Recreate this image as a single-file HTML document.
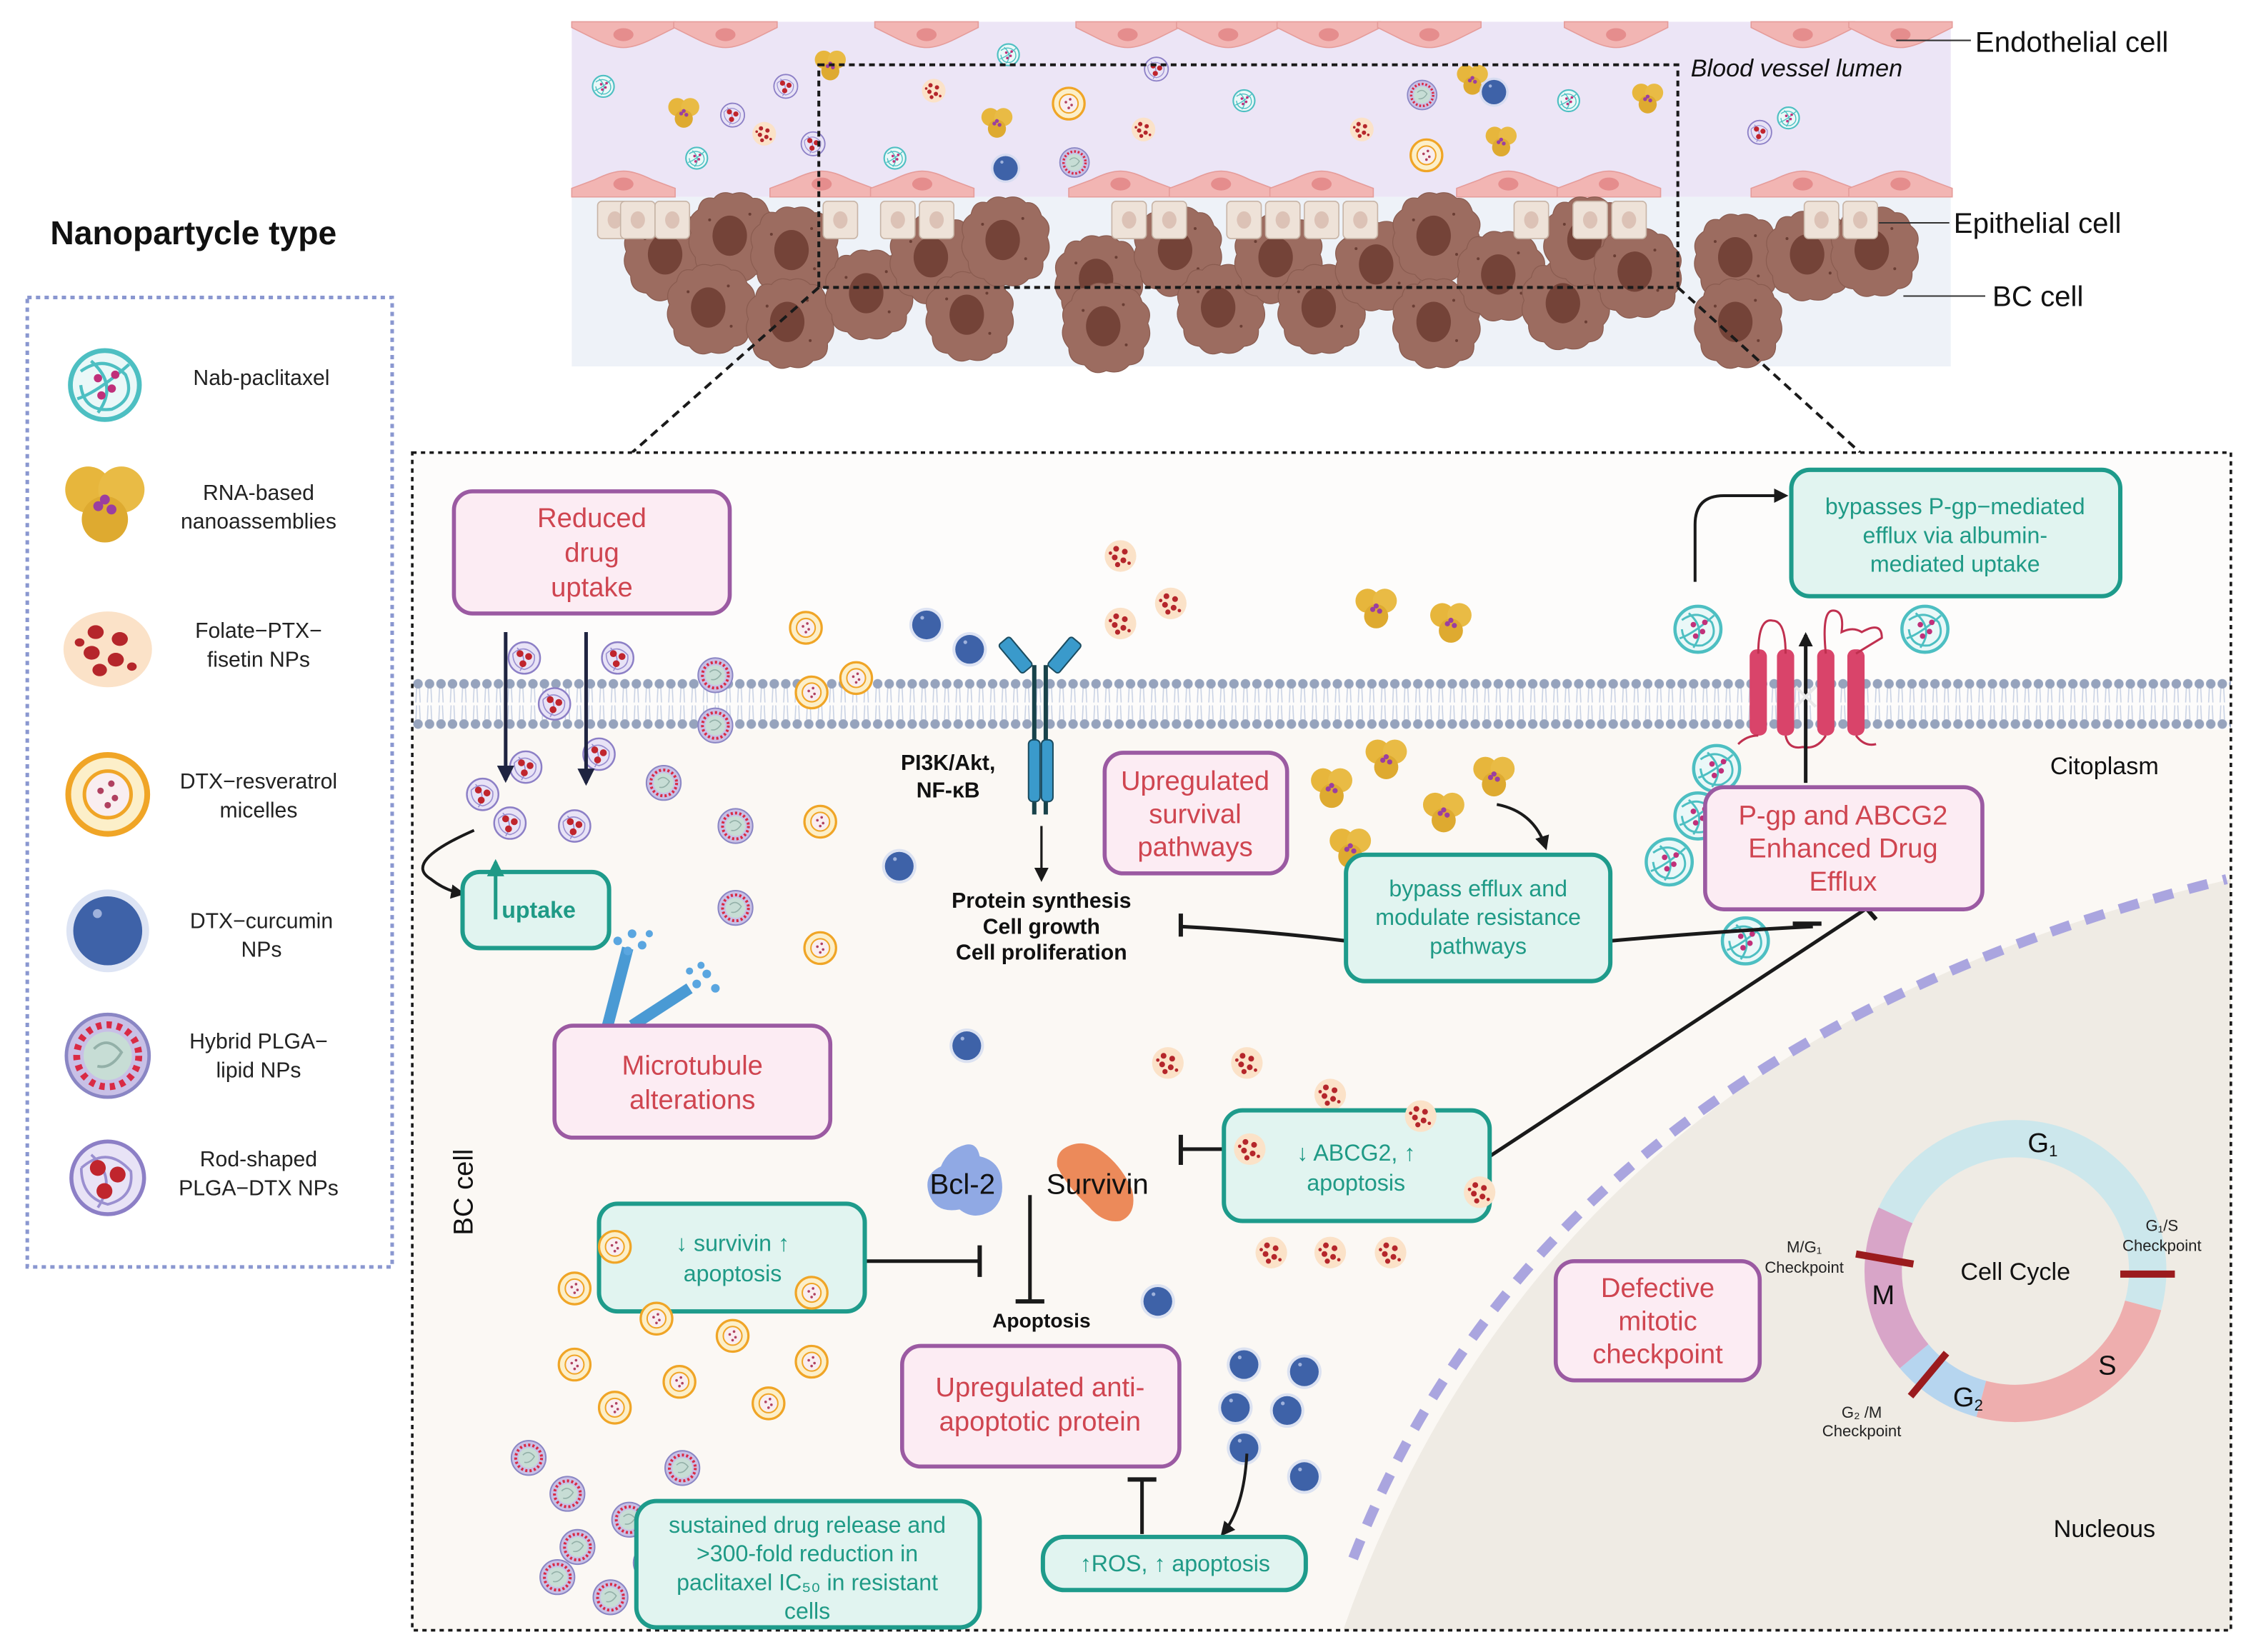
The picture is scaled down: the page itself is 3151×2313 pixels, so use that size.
<!DOCTYPE html>
<html><head><meta charset="utf-8"><style>html,body{margin:0;padding:0;background:#fff}svg{display:block}text{font-family:"Liberation Sans",sans-serif}</style></head><body>
<svg width="3151" height="2313" viewBox="0 0 1567 1150" xmlns="http://www.w3.org/2000/svg">
<defs>
<pattern id="mem" x="287" y="470" width="8" height="40" patternUnits="userSpaceOnUse">
<line x1="3" y1="9" x2="2.5" y2="19" stroke="#c9d2e4" stroke-width="0.8"/><line x1="5" y1="9" x2="5.5" y2="19" stroke="#c9d2e4" stroke-width="0.8"/>
<line x1="3" y1="21" x2="2.5" y2="31" stroke="#c9d2e4" stroke-width="0.8"/><line x1="5" y1="21" x2="5.5" y2="31" stroke="#c9d2e4" stroke-width="0.8"/>
<circle cx="4" cy="6" r="3.3" fill="#96a3bd"/><circle cx="4" cy="34" r="3.3" fill="#96a3bd"/></pattern>
<g id="nab"><circle r="10" fill="#eaf8f8" stroke="#4dbfc2" stroke-width="1.4"/><path d="M-7,-4 Q0,-9 6,-3 Q9,4 2,7 Q-6,8 -7,0 M-4,-7 Q4,0 -2,8 M7,-6 Q-2,2 -8,4" fill="none" stroke="#4dbfc2" stroke-width="0.9"/><circle cx="-2" cy="-2" r="1.2" fill="#c0307a"/><circle cx="2" cy="1" r="1.2" fill="#c0307a"/><circle cx="-1" cy="3" r="1.2" fill="#c0307a"/><circle cx="3" cy="-3" r="1.2" fill="#c0307a"/></g>
<g id="rna"><circle cx="-5" cy="-4" r="7" fill="#e7b63c"/><circle cx="5" cy="-4" r="7" fill="#e9bb45"/><circle cx="0" cy="5" r="7" fill="#deaa30"/><circle cx="0" cy="-1" r="1.5" fill="#9b3fa0"/><circle cx="2" cy="2" r="1.5" fill="#9b3fa0"/><circle cx="-2" cy="1" r="1.5" fill="#9b3fa0"/></g>
<g id="fol"><circle r="11" fill="#fbe2c8"/><circle cx="-3" cy="-5" r="2" fill="#b5262b"/><circle cx="3" cy="-3" r="2" fill="#b5262b"/><circle cx="-4" cy="1" r="2" fill="#b5262b"/><circle cx="2" cy="3" r="2" fill="#b5262b"/><circle cx="-2" cy="6" r="1.8" fill="#b5262b"/><circle cx="6" cy="5" r="1.2" fill="#b5262b"/><circle cx="-7" cy="-2" r="1.2" fill="#b5262b"/></g>
<g id="mic"><circle r="11" fill="#fcefc9" stroke="#f0a526" stroke-width="1.6"/><circle r="6.5" fill="#f9eef0" stroke="#f0a526" stroke-width="1"/><circle cx="-2" cy="-1" r="0.9" fill="#b04060"/><circle cx="2" cy="1" r="0.9" fill="#b04060"/><circle cx="0" cy="3" r="0.9" fill="#b04060"/><circle cx="1" cy="-3" r="0.9" fill="#b04060"/></g>
<g id="cur"><circle r="12" fill="#cfd8f0" opacity="0.7"/><circle r="10" fill="#3e62a8"/><circle cx="-3" cy="-5" r="1.3" fill="#9fb2dc"/></g>
<g id="hyb"><circle r="12" fill="#c8c0e6" stroke="#8a86c4" stroke-width="1"/><circle r="9" fill="none" stroke="#d92a45" stroke-width="2" stroke-dasharray="1.5 1.5"/><circle r="7" fill="#c7ddd5"/><path d="M-4,-2 Q0,-6 4,-1 Q1,4 -3,3" fill="none" stroke="#93b0a8" stroke-width="0.8"/></g>
<g id="rod"><circle r="11" fill="#e8e3f6" stroke="#8c7fc6" stroke-width="1.2"/><path d="M-8,-3 Q0,-10 7,-2 Q8,6 0,8 Q-8,6 -8,-3 M-5,-7 Q3,0 -3,9" fill="none" stroke="#9a8fd0" stroke-width="0.8"/><circle cx="-3" cy="-3" r="2.4" fill="#c0252d"/><circle cx="3" cy="-1" r="2.4" fill="#c0252d"/><circle cx="-1" cy="4" r="2.4" fill="#c0252d"/></g>
<g id="endT"><path d="M-36,0 L36,0 L36,4 Q28,8 20,12 Q8,18 0,18 Q-8,18 -20,12 Q-28,8 -36,4 Z" fill="#f2b5b3" stroke="#e59c9a" stroke-width="0.8"/><ellipse cx="0" cy="9" rx="7" ry="4.5" fill="#e58d8d"/></g>
<g id="endB"><path d="M-36,0 L36,0 L36,-6 Q28,-9 20,-12 Q8,-18 0,-18 Q-8,-18 -20,-12 Q-28,-9 -36,-6 Z" fill="#f2b5b3" stroke="#e59c9a" stroke-width="0.8"/><ellipse cx="0" cy="-9" rx="7" ry="4.5" fill="#e58d8d"/></g>
<g id="epi"><rect x="-12" y="0" width="24" height="26" rx="3" fill="#eee2d8" stroke="#c7b4a6" stroke-width="0.8"/><ellipse cx="0" cy="13" rx="5" ry="6" fill="#dcc2b6"/></g>
<g id="bc"><path d="M0,-30 Q8,-33 14,-27 Q22,-28 25,-18 Q33,-12 29,-3 Q33,7 26,14 Q27,25 16,26 Q10,33 0,30 Q-9,34 -15,26 Q-26,25 -26,14 Q-33,6 -29,-3 Q-33,-13 -24,-19 Q-22,-29 -13,-27 Q-8,-33 0,-30Z" fill="#9c6c60" stroke="#8a5c50" stroke-width="0.6"/><ellipse cx="-2" cy="-1" rx="12" ry="14" fill="#744338"/><circle cx="14" cy="12" r="1" fill="#6a3e34"/><circle cx="-16" cy="-12" r="1" fill="#6a3e34"/><circle cx="12" cy="-16" r="1" fill="#6a3e34"/></g>
<marker id="ah" markerWidth="10" markerHeight="10" refX="8" refY="5" orient="auto" markerUnits="userSpaceOnUse"><path d="M0,0 L10,5 L0,10 Z" fill="#1a1a1a"/></marker>
<marker id="ahn" markerWidth="12" markerHeight="12" refX="10" refY="6" orient="auto" markerUnits="userSpaceOnUse"><path d="M0,0 L12,6 L0,12 Z" fill="#1f2440"/></marker>
<marker id="aht" markerWidth="12" markerHeight="12" refX="10" refY="6" orient="auto" markerUnits="userSpaceOnUse"><path d="M0,0 L12,6 L0,12 Z" fill="#1f9a86"/></marker>
</defs>
<rect width="1567" height="1150" fill="#fff"/>

<!-- TOP VESSEL -->
<rect x="398" y="15" width="960" height="122" fill="#ece5f6"/>
<rect x="398" y="137" width="960" height="118" fill="#eef2f8"/>
<g>
<use href="#endT" x="434" y="15"/><use href="#endT" x="505" y="15"/><use href="#endT" x="645" y="15"/><use href="#endT" x="785" y="15"/><use href="#endT" x="855" y="15"/><use href="#endT" x="925" y="15"/><use href="#endT" x="995" y="15"/><use href="#endT" x="1125" y="15"/><use href="#endT" x="1255" y="15"/><use href="#endT" x="1323" y="15"/>
<use href="#endB" x="434" y="137"/><use href="#endB" x="572" y="137"/><use href="#endB" x="642" y="137"/><use href="#endB" x="780" y="137"/><use href="#endB" x="850" y="137"/><use href="#endB" x="920" y="137"/><use href="#endB" x="1050" y="137"/><use href="#endB" x="1120" y="137"/><use href="#endB" x="1255" y="137"/><use href="#endB" x="1323" y="137"/>
</g>
<g>
<use href="#bc" x="465" y="178"/><use href="#bc" x="510" y="165"/><use href="#bc" x="495" y="215" transform="scale(1)"/><use href="#bc" x="553" y="175"/><use href="#bc" x="550" y="225"/><use href="#bc" x="605" y="205"/><use href="#bc" x="650" y="180"/><use href="#bc" x="675" y="220"/><use href="#bc" x="700" y="168"/><use href="#bc" x="765" y="195"/><use href="#bc" x="770" y="228"/><use href="#bc" x="820" y="175"/><use href="#bc" x="850" y="215"/><use href="#bc" x="890" y="180"/><use href="#bc" x="920" y="215"/><use href="#bc" x="960" y="185"/><use href="#bc" x="1000" y="165"/><use href="#bc" x="1000" y="225"/><use href="#bc" x="1045" y="192"/><use href="#bc" x="1090" y="212"/><use href="#bc" x="1105" y="168"/><use href="#bc" x="1140" y="190"/><use href="#bc" x="1210" y="180"/><use href="#bc" x="1210" y="225"/><use href="#bc" x="1260" y="178"/><use href="#bc" x="1305" y="175"/>
</g>
<g>
<use href="#epi" x="428" y="140"/><use href="#epi" x="444" y="140"/><use href="#epi" x="468" y="140"/><use href="#epi" x="585" y="140"/><use href="#epi" x="625" y="140"/><use href="#epi" x="652" y="140"/><use href="#epi" x="786" y="140"/><use href="#epi" x="814" y="140"/><use href="#epi" x="866" y="140"/><use href="#epi" x="893" y="140"/><use href="#epi" x="920" y="140"/><use href="#epi" x="947" y="140"/><use href="#epi" x="1066" y="140"/><use href="#epi" x="1107" y="140"/><use href="#epi" x="1134" y="140"/><use href="#epi" x="1268" y="140"/><use href="#epi" x="1295" y="140"/>
</g>
<g transform="translate(0,0)">
<g transform="translate(420,60) scale(0.75)"><use href="#nab"/></g><g transform="translate(485,110) scale(0.75)"><use href="#nab"/></g><g transform="translate(623,110) scale(0.75)"><use href="#nab"/></g><g transform="translate(866,70) scale(0.75)"><use href="#nab"/></g><g transform="translate(1092,70) scale(0.75)"><use href="#nab"/></g><g transform="translate(1245,82) scale(0.75)"><use href="#nab"/></g><g transform="translate(702,38) scale(0.75)"><use href="#nab"/></g>
<g transform="translate(476,78) scale(0.9)"><use href="#rna"/></g><g transform="translate(578,45) scale(0.9)"><use href="#rna"/></g><g transform="translate(694,85) scale(0.9)"><use href="#rna"/></g><g transform="translate(1025,55) scale(0.9)"><use href="#rna"/></g><g transform="translate(1045,98) scale(0.9)"><use href="#rna"/></g><g transform="translate(1147,68) scale(0.9)"><use href="#rna"/></g>
<g transform="translate(510,80) scale(0.75)"><use href="#rod"/></g><g transform="translate(547,60) scale(0.75)"><use href="#rod"/></g><g transform="translate(566,100) scale(0.75)"><use href="#rod"/></g><g transform="translate(805,48) scale(0.75)"><use href="#rod"/></g><g transform="translate(1225,92) scale(0.75)"><use href="#rod"/></g>
<g transform="translate(532,93) scale(0.75)"><use href="#fol"/></g><g transform="translate(650,63) scale(0.75)"><use href="#fol"/></g><g transform="translate(796,90) scale(0.75)"><use href="#fol"/></g><g transform="translate(948,90) scale(0.75)"><use href="#fol"/></g>
<g transform="translate(744,72) scale(1)"><use href="#mic"/></g><g transform="translate(993,108) scale(1)"><use href="#mic"/></g>
<g transform="translate(700,117) scale(0.85)"><use href="#cur"/></g><g transform="translate(1040,64) scale(0.85)"><use href="#cur"/></g>
<g transform="translate(748,113) scale(0.85)"><use href="#hyb"/></g><g transform="translate(990,66) scale(0.85)"><use href="#hyb"/></g>
</g>
<rect x="570" y="45" width="598" height="155" fill="none" stroke="#1a1a1a" stroke-width="2" stroke-dasharray="4 3"/>
<line x1="570" y1="200" x2="440" y2="315" stroke="#1a1a1a" stroke-width="2" stroke-dasharray="6 4"/>
<line x1="1168" y1="200" x2="1295" y2="315" stroke="#1a1a1a" stroke-width="2" stroke-dasharray="6 4"/>
<text x="1375" y="36" font-size="20" fill="#111">Endothelial cell</text>
<text x="1177" y="53" font-size="17" font-style="italic" fill="#111">Blood vessel lumen</text>
<text x="1360" y="162" font-size="20" fill="#111">Epithelial cell</text>
<text x="1387" y="213" font-size="20" fill="#111">BC  cell</text>
<line x1="1320" y1="28" x2="1372" y2="28" stroke="#333" stroke-width="1"/>
<line x1="1308" y1="155" x2="1357" y2="155" stroke="#333" stroke-width="1"/>
<line x1="1325" y1="206" x2="1382" y2="206" stroke="#333" stroke-width="1"/>

<!-- LEGEND -->
<text x="35" y="170" font-size="23" font-weight="bold" fill="#111">Nanopartycle type</text>
<rect x="19" y="207" width="254" height="675" fill="none" stroke="#8a97d0" stroke-width="2.5" stroke-dasharray="3 3"/>
<g transform="translate(73,268) scale(2.4)"><use href="#nab"/></g>
<g transform="translate(73,350) scale(2.3)"><use href="#rna"/></g>
<g transform="translate(75,452) scale(2.8,2.4)"><use href="#fol"/></g>
<g transform="translate(75,553) scale(2.5)"><use href="#mic"/></g>
<g transform="translate(75,648) scale(2.4)"><use href="#cur"/></g>
<g transform="translate(75,735) scale(2.4)"><use href="#hyb"/></g>
<g transform="translate(75,820) scale(2.3)"><use href="#rod"/></g>
<g font-size="15" fill="#222" text-anchor="middle">
<text x="182" y="268">Nab-paclitaxel</text>
<text x="180" y="348">RNA-based</text><text x="180" y="368">nanoassemblies</text>
<text x="180" y="444">Folate−PTX−</text><text x="180" y="464">fisetin NPs</text>
<text x="180" y="549">DTX−resveratrol</text><text x="180" y="569">micelles</text>
<text x="182" y="646">DTX−curcumin</text><text x="182" y="666">NPs</text>
<text x="180" y="730">Hybrid PLGA−</text><text x="180" y="750">lipid NPs</text>
<text x="180" y="812">Rod-shaped</text><text x="180" y="832">PLGA−DTX NPs</text>
</g>

<!-- MAIN CELL -->
<rect x="287" y="315" width="1266" height="820" fill="#fdfcfb"/>
<rect x="287" y="508" width="1266" height="627" fill="#fbf8f4"/>
<path d="M935,1135 Q1080,720 1553,612 L1553,1135 Z" fill="#efebe4"/>
<path d="M942,1085 Q1080,730 1550,612" fill="none" stroke="#aaa5df" stroke-width="7" stroke-dasharray="14 11"/>
<rect x="287" y="470" width="1266" height="40" fill="url(#mem)"/>
<rect x="287" y="315" width="1266" height="820" fill="none" stroke="#1a1a1a" stroke-width="1.8" stroke-dasharray="3 3"/>

<!-- receptor -->
<g>
<rect x="702" y="443" width="10" height="26" rx="2" fill="#3a9acb" stroke="#1b4c60" stroke-width="1" transform="rotate(-40 707 456)"/>
<rect x="736" y="443" width="10" height="26" rx="2" fill="#3a9acb" stroke="#1b4c60" stroke-width="1" transform="rotate(40 741 456)"/>
<line x1="720" y1="463" x2="720" y2="567" stroke="#18424a" stroke-width="3"/><line x1="728" y1="463" x2="728" y2="567" stroke="#18424a" stroke-width="3"/>
<rect x="716" y="515" width="8" height="43" rx="3" fill="#3a9acb" stroke="#1b4c60"/><rect x="725" y="515" width="8" height="43" rx="3" fill="#3a9acb" stroke="#1b4c60"/>
</g>
<line x1="725" y1="575" x2="725" y2="612" stroke="#1a1a1a" stroke-width="1.6" marker-end="url(#ah)"/>
<text x="660" y="536" font-size="15" font-weight="bold" text-anchor="middle" fill="#111">PI3K/Akt,</text>
<text x="660" y="555" font-size="15" font-weight="bold" text-anchor="middle" fill="#111">NF-κB</text>
<g font-size="15" font-weight="bold" text-anchor="middle" fill="#111"><text x="725" y="632">Protein synthesis</text><text x="725" y="650">Cell growth</text><text x="725" y="668">Cell proliferation</text></g>

<!-- P-gp -->
<g fill="#d9446a"><rect x="1218" y="452" width="12" height="60" rx="5"/><rect x="1237" y="452" width="12" height="60" rx="5"/><rect x="1265" y="452" width="12" height="60" rx="5"/><rect x="1286" y="452" width="12" height="60" rx="5"/></g>
<path d="M1224,455 Q1224,430 1234,432 Q1243,432 1243,455 M1271,455 Q1268,425 1276,425 Q1284,425 1282,440 Q1290,436 1296,440 Q1310,432 1310,444 Q1300,450 1292,455 M1210,518 Q1216,512 1224,512 M1243,512 Q1245,522 1255,520 Q1265,522 1271,512 M1292,512 Q1298,520 1306,518" fill="none" stroke="#c0304f" stroke-width="1.5"/>
<line x1="1257" y1="545" x2="1257" y2="442" stroke="#1a1a1a" stroke-width="2.5" marker-end="url(#ah)"/>
<path d="M1250,478 L1264,492 M1264,478 L1250,492" stroke="#e8e8e8" stroke-width="2"/>
<text x="1465" y="539" font-size="17" text-anchor="middle" fill="#111">Citoplasm</text>
<text x="1465" y="1070" font-size="17" text-anchor="middle" fill="#111">Nucleous</text>
<text x="0" y="0" font-size="19" fill="#111" transform="translate(329,860) rotate(-90)">BC  cell</text>

<!-- particles main -->
<g>
<use href="#rod" x="365" y="458"/><use href="#rod" x="430" y="458"/><use href="#rod" x="386" y="490"/><use href="#rod" x="417" y="525"/><use href="#rod" x="366" y="534"/><use href="#rod" x="336" y="553"/><use href="#rod" x="355" y="573"/><use href="#rod" x="400" y="575"/>
<use href="#hyb" x="498" y="470"/><use href="#hyb" x="498" y="505"/><use href="#hyb" x="462" y="545"/><use href="#hyb" x="512" y="575"/><use href="#hyb" x="512" y="632"/>
<use href="#hyb" x="368" y="1015"/><use href="#hyb" x="395" y="1040"/><use href="#hyb" x="475" y="1022"/><use href="#hyb" x="438" y="1058"/><use href="#hyb" x="402" y="1077"/><use href="#hyb" x="453" y="1088"/><use href="#hyb" x="388" y="1098"/><use href="#hyb" x="425" y="1112"/>
<use href="#mic" x="561" y="437"/><use href="#mic" x="565" y="482"/><use href="#mic" x="596" y="472"/><use href="#mic" x="571" y="572"/><use href="#mic" x="571" y="660"/><use href="#mic" x="400" y="897"/><use href="#mic" x="400" y="950"/><use href="#mic" x="473" y="962"/><use href="#mic" x="535" y="977"/><use href="#mic" x="428" y="980"/><use href="#mic" x="510" y="930"/><use href="#mic" x="565" y="948"/>
<use href="#cur" x="645" y="435"/><use href="#cur" x="675" y="452"/><use href="#cur" x="626" y="603"/><use href="#cur" x="673" y="728"/><use href="#cur" x="806" y="906"/><use href="#cur" x="866" y="950"/><use href="#cur" x="908" y="955"/><use href="#cur" x="860" y="980"/><use href="#cur" x="896" y="982"/><use href="#cur" x="866" y="1008"/><use href="#cur" x="908" y="1028"/>
<use href="#fol" x="780" y="387"/><use href="#fol" x="780" y="434"/><use href="#fol" x="815" y="420"/><use href="#fol" x="813" y="740"/><use href="#fol" x="868" y="740"/><use href="#fol" x="926" y="762"/>
<use href="#fol" x="885" y="872"/><use href="#fol" x="926" y="872"/><use href="#fol" x="968" y="872"/>
<g transform="translate(958,423) scale(1.2)"><use href="#rna"/></g><g transform="translate(1010,433) scale(1.2)"><use href="#rna"/></g><g transform="translate(927,548) scale(1.2)"><use href="#rna"/></g><g transform="translate(965,528) scale(1.2)"><use href="#rna"/></g><g transform="translate(1005,565) scale(1.2)"><use href="#rna"/></g><g transform="translate(1040,540) scale(1.2)"><use href="#rna"/></g><g transform="translate(940,590) scale(1.2)"><use href="#rna"/></g>
<g transform="translate(1182,438) scale(1.6)"><use href="#nab"/></g><g transform="translate(1340,438) scale(1.6)"><use href="#nab"/></g><g transform="translate(1195,535) scale(1.6)"><use href="#nab"/></g><g transform="translate(1182,568) scale(1.6)"><use href="#nab"/></g><g transform="translate(1162,600) scale(1.6)"><use href="#nab"/></g><g transform="translate(1215,655) scale(1.6)"><use href="#nab"/></g>
</g>

<!-- microtubules -->
<g stroke="#4a9ad4" stroke-width="8" stroke-linecap="butt"><line x1="423" y1="714" x2="437" y2="660"/><line x1="440" y1="714" x2="480" y2="688"/></g>
<g fill="#5aa6e0"><circle cx="430" cy="655" r="3"/><circle cx="440" cy="650" r="3"/><circle cx="447" cy="658" r="3"/><circle cx="437" cy="662" r="3"/><circle cx="452" cy="650" r="2.5"/><circle cx="485" cy="685" r="3"/><circle cx="492" cy="678" r="3"/><circle cx="498" cy="688" r="3"/><circle cx="488" cy="672" r="2.5"/><circle cx="480" cy="676" r="2.5"/></g>

<!-- arrows -->
<line x1="352" y1="440" x2="352" y2="543" stroke="#1f2440" stroke-width="2.5" marker-end="url(#ahn)"/>
<line x1="408" y1="440" x2="408" y2="545" stroke="#1f2440" stroke-width="2.5" marker-end="url(#ahn)"/>
<path d="M330,578 Q280,600 300,612 Q310,620 322,622" fill="none" stroke="#1a1a1a" stroke-width="2" marker-end="url(#ah)"/>
<path d="M1180,405 L1180,365 Q1180,345 1200,345 L1243,345" fill="none" stroke="#1a1a1a" stroke-width="2" marker-end="url(#ah)"/>
<path d="M1042,560 Q1068,565 1076,590" fill="none" stroke="#1a1a1a" stroke-width="2" marker-end="url(#ah)"/>
<path d="M937,655 Q880,648 822,645" fill="none" stroke="#1a1a1a" stroke-width="2.5"/><line x1="822" y1="636" x2="822" y2="652" stroke="#1a1a1a" stroke-width="3"/>
<path d="M1121,655 Q1200,648 1262,645" fill="none" stroke="#1a1a1a" stroke-width="2.5"/><line x1="1248" y1="643" x2="1268" y2="643" stroke="#1a1a1a" stroke-width="3"/>
<line x1="1037" y1="805" x2="1300" y2="632" stroke="#1a1a1a" stroke-width="2.5"/><line x1="1292" y1="624" x2="1306" y2="640" stroke="#1a1a1a" stroke-width="3"/>
<line x1="852" y1="800" x2="822" y2="800" stroke="#1a1a1a" stroke-width="2.5"/><line x1="822" y1="790" x2="822" y2="811" stroke="#1a1a1a" stroke-width="3"/>
<line x1="602" y1="878" x2="682" y2="878" stroke="#1a1a1a" stroke-width="2.5"/><line x1="682" y1="867" x2="682" y2="889" stroke="#1a1a1a" stroke-width="3"/>
<line x1="717" y1="832" x2="717" y2="906" stroke="#1a1a1a" stroke-width="2.5"/><line x1="707" y1="906" x2="727" y2="906" stroke="#1a1a1a" stroke-width="3"/>
<line x1="795" y1="1068" x2="795" y2="1030" stroke="#1a1a1a" stroke-width="2.5"/><line x1="785" y1="1030" x2="805" y2="1030" stroke="#1a1a1a" stroke-width="3"/>
<path d="M868,1012 Q866,1050 851,1068" fill="none" stroke="#1a1a1a" stroke-width="2" marker-end="url(#ah)"/>

<!-- proteins -->
<path d="M672,797 Q680,795 682,805 Q695,808 697,820 Q700,835 690,843 Q678,850 668,842 Q652,845 647,832 Q642,818 655,812 Q660,800 672,797Z" fill="#7d9be0" opacity="0.85"/>
<path d="M740,800 Q752,792 765,800 Q780,810 788,828 Q792,845 780,850 Q768,852 758,840 Q742,825 736,812 Q735,804 740,800Z" fill="#ec8a5a"/>
<text x="670" y="831" font-size="20" text-anchor="middle" fill="#111">Bcl-2</text>
<text x="764" y="831" font-size="20" text-anchor="middle" fill="#111">Survivin</text>
<text x="725" y="924" font-size="14" font-weight="bold" text-anchor="middle" fill="#111">Apoptosis</text>

<!-- PINK BOXES -->
<g fill="#fcecf3" stroke="#9b5aa2" stroke-width="2.8">
<rect x="316" y="342" width="192" height="85" rx="13"/>
<rect x="386" y="714" width="192" height="78" rx="13"/>
<rect x="769" y="524" width="127" height="84" rx="13"/>
<rect x="1187" y="548" width="193" height="85" rx="13"/>
<rect x="628" y="937" width="193" height="84" rx="13"/>
<rect x="1083" y="878" width="142" height="83" rx="13"/>
</g>
<g font-size="19" fill="#cf4550" text-anchor="middle">
<text x="412" y="367">Reduced</text><text x="412" y="391">drug</text><text x="412" y="415">uptake</text>
<text x="482" y="748">Microtubule</text><text x="482" y="772">alterations</text>
<text x="832" y="550">Upregulated</text><text x="832" y="573">survival</text><text x="832" y="596">pathways</text>
<text x="1283" y="574">P-gp and ABCG2</text><text x="1283" y="597">Enhanced Drug</text><text x="1283" y="620">Efflux</text>
<text x="724" y="972">Upregulated anti-</text><text x="724" y="996">apoptotic protein</text>
<text x="1154" y="903">Defective</text><text x="1154" y="926">mitotic</text><text x="1154" y="949">checkpoint</text>
</g>

<!-- TEAL BOXES -->
<g fill="#e1f4f0" stroke="#1e9b8b" stroke-width="3">
<rect x="322" y="607" width="102" height="53" rx="12"/>
<rect x="937" y="595" width="184" height="88" rx="13"/>
<rect x="1247" y="327" width="229" height="88" rx="13"/>
<rect x="852" y="773" width="185" height="77" rx="13"/>
<rect x="417" y="838" width="185" height="75" rx="13"/>
<rect x="726" y="1070" width="183" height="37" rx="15"/>
<rect x="443" y="1045" width="239" height="88" rx="14"/>
</g>
<line x1="345" y1="640" x2="345" y2="600" stroke="#1f9a86" stroke-width="2.5" marker-end="url(#aht)"/>
<g fill="#1f9a86" text-anchor="middle" font-size="16">
<text x="375" y="639" font-weight="bold">uptake</text>
<text x="1029" y="624">bypass efflux and</text><text x="1029" y="644">modulate resistance</text><text x="1029" y="664">pathways</text>
<text x="1361" y="358">bypasses P-gp−mediated</text><text x="1361" y="378">efflux via albumin-</text><text x="1361" y="398">mediated uptake</text>
<text x="944" y="808">↓ ABCG2, ↑</text><text x="944" y="829">apoptosis</text>
<text x="510" y="871">↓ survivin ↑</text><text x="510" y="892">apoptosis</text>
<text x="818" y="1094">↑ROS, ↑ apoptosis</text>
<text x="562" y="1067">sustained drug release and</text><text x="562" y="1087">&gt;300-fold reduction in</text><text x="562" y="1107">paclitaxel IC₅₀ in resistant</text><text x="562" y="1127">cells</text>
</g>
<!-- particles overlapping boxes -->
<use href="#fol" x="870" y="800"/><use href="#fol" x="989" y="777"/><use href="#fol" x="1030" y="830"/>
<use href="#mic" x="428" y="868"/><use href="#mic" x="565" y="900"/><use href="#mic" x="457" y="918"/>

<!-- CELL CYCLE -->
<g fill="none" stroke-width="26">
<path d="M1319.6,846.1 A92,92 0 0 1 1491.9,908.8" stroke="#cce7ec"/>
<path d="M1491.9,908.8 A92,92 0 0 1 1379.2,973.9" stroke="#eeaeae"/>
<path d="M1379.2,973.9 A92,92 0 0 1 1332.5,944.2" stroke="#b6d5ef"/>
<path d="M1332.5,944.2 A92,92 0 0 1 1319.6,846.1" stroke="#d8a5c8"/>
</g>
<g stroke="#9b1b1e" stroke-width="5"><line x1="1476" y1="887" x2="1514" y2="887"/><line x1="1332" y1="880" x2="1292" y2="873"/><line x1="1355" y1="942" x2="1330" y2="972"/></g>
<g fill="#111" text-anchor="middle">
<text x="1422" y="802" font-size="19">G<tspan font-size="11" dy="3">1</tspan></text>
<text x="1467" y="957" font-size="19">S</text>
<text x="1370" y="979" font-size="19">G<tspan font-size="11" dy="3">2</tspan></text>
<text x="1311" y="908" font-size="19">M</text>
<text x="1403" y="891" font-size="17">Cell Cycle</text>
<g font-size="11" fill="#222"><text x="1256" y="872">M/G₁</text><text x="1256" y="886">Checkpoint</text>
<text x="1505" y="857">G₁/S</text><text x="1505" y="871">Checkpoint</text>
<text x="1296" y="987">G₂ /M</text><text x="1296" y="1000">Checkpoint</text></g>
</g>
</svg>
</body></html>
